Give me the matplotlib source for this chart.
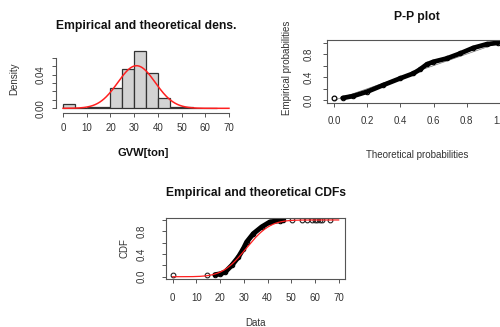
import math
import numpy as np
import matplotlib
matplotlib.use("Agg")
import matplotlib.pyplot as plt

plt.rcParams['font.family'] = ['Liberation Sans', 'DejaVu Sans']

# ---- data ----
bin_edges = [0, 5, 10, 15, 20, 25, 30, 35, 40, 45, 50, 55, 60, 65]
hist_density = [0.005, 0.0, 0.001, 0.001, 0.0245, 0.0468, 0.0674, 0.0417,
                0.0119, 0.001, 0.001, 0.0005, 0.0005]
fit_mean = 31.0
fit_sd = 7.9

pp_theo = [0.052, 0.116, 0.20, 0.297, 0.398, 0.478, 0.518, 0.558, 0.598,
           0.679, 0.759, 0.839, 0.92, 0.99]
pp_emp = [0.04, 0.074, 0.149, 0.264, 0.379, 0.465, 0.534, 0.62, 0.666,
          0.724, 0.81, 0.907, 0.971, 0.995]
pp_iso_theo = [0.0]
pp_iso_emp = [0.034]

cdf_x = [17.8, 20.0, 22.1, 24.9, 27.7, 29.8, 31.2, 34.0, 37.5, 41.0, 45.3, 46.7]
cdf_y = [0.035, 0.05, 0.083, 0.2, 0.347, 0.494, 0.612, 0.759, 0.877, 0.965, 0.99, 0.995]
cdf_iso_x = [0.0, 14.3, 50.2, 54.6, 56.7, 58.8, 60.0, 61.0, 62.0, 63.0, 66.5]
cdf_iso_y = [0.025, 0.035, 0.997, 0.998, 0.998, 0.999, 0.999, 0.999, 1.0, 1.0, 1.0]

hist_xticks = [0, 10, 20, 30, 40, 50, 60, 70]
hist_yticks = [0.0, 0.01, 0.02, 0.03, 0.04, 0.05, 0.06]
hist_ylabels = ['0.00', '', '', '', '0.04', '', '']
prob_ticks = [0.0, 0.2, 0.4, 0.6, 0.8, 1.0]
prob_xlabels = ['0.0', '0.2', '0.4', '0.6', '0.8', '1.0']
prob_ylabels = ['0.0', '', '0.4', '', '0.8', '']

W, H = 500, 327
fig = plt.figure(figsize=(W / 100, H / 100), dpi=100)

def rect(l, r, t, b):
    return [l / W, 1 - b / H, (r - l) / W, (b - t) / H]

TC = '#333333'
AX = '#555555'
FS = 7
TFS = 8.7

def norm_pdf(x):
    return np.exp(-0.5 * ((x - fit_mean) / fit_sd) ** 2) / (fit_sd * math.sqrt(2 * math.pi))

def norm_cdf(x):
    return np.array([0.5 * (1 + math.erf((v - fit_mean) / (fit_sd * math.sqrt(2)))) for v in x])

def style(ax, xpad, ypad):
    ax.tick_params(axis='both', length=2.9, width=0.7, color=AX, labelsize=FS,
                   labelcolor=TC)
    ax.tick_params(axis='x', pad=xpad)
    ax.tick_params(axis='y', pad=ypad)
    for lbl in ax.get_xticklabels():
        lbl.set_va('center')
    for lbl in ax.get_yticklabels():
        lbl.set_rotation(90)
        lbl.set_ha('center')
        lbl.set_va('center')

# ---- histogram ----
ax1 = fig.add_axes(rect(56.4, 235.6, 49, 112.7))
ax1.bar(bin_edges[:-1], hist_density, width=5, align='edge', color='#d3d3d3',
        edgecolor='#333333', linewidth=0.9)
xx = np.linspace(0, 70, 300)
ax1.plot(xx, norm_pdf(xx), color='#ff2020', lw=1.1)
ax1.set_xlim(-2.8, 72.8)
ax1.set_ylim(-0.0052, 0.0703)
for s in ['top', 'right']:
    ax1.spines[s].set_visible(False)
ax1.spines['left'].set_bounds(0, 0.06)
ax1.spines['bottom'].set_bounds(0, 70)
for s in ['left', 'bottom']:
    ax1.spines[s].set_color(AX)
    ax1.spines[s].set_linewidth(0.8)
ax1.set_xticks(hist_xticks)
ax1.set_yticks(hist_yticks)
ax1.set_yticklabels(hist_ylabels)
style(ax1, 8.1, 8.2)
fig.text(146 / W, 1 - 25.7 / H, 'Empirical and theoretical dens.', ha='center',
         va='center', fontsize=TFS, fontweight='bold', color='#111111')
fig.text(143 / W, 1 - 153 / H, 'GVW[ton]', ha='center', va='center',
         fontsize=8, fontweight='bold', color='#111111')
fig.text(14 / W, 1 - 79 / H, 'Density', ha='center', va='center', rotation=90,
         fontsize=FS, color=TC)

# ---- P-P plot ----
ax2 = fig.add_axes(rect(327.4, 506.6, 40.2, 102.6))
ax2.plot([0, 1], [0, 1], color='#777777', lw=0.5)
ax2.plot(pp_theo, pp_emp, color='black', lw=3.4, solid_capstyle='round')
ax2.plot(pp_theo, pp_emp, 'o', mfc='none', mec='black', ms=3.2, mew=0.8)
ax2.plot(pp_iso_theo, pp_iso_emp, 'o', mfc='none', mec='black', ms=3.4, mew=0.9)
ax2.set_xlim(-0.04, 1.04)
ax2.set_ylim(-0.04, 1.04)
for s in ax2.spines.values():
    s.set_color(AX)
    s.set_linewidth(0.8)
ax2.set_xticks(prob_ticks)
ax2.set_xticklabels(prob_xlabels)
ax2.set_yticks(prob_ticks)
ax2.set_yticklabels(prob_ylabels)
style(ax2, 10.6, 10.4)
fig.text(417 / W, 1 - 17.3 / H, 'P-P plot', ha='center', va='center',
         fontsize=TFS, fontweight='bold', color='#111111')
fig.text(417 / W, 1 - 155 / H, 'Theoretical probabilities', ha='center',
         va='center', fontsize=FS, color=TC)
fig.text(286.7 / W, 1 - 68 / H, 'Empirical probabilities', ha='center',
         va='center', rotation=90, fontsize=FS, color=TC)

# ---- CDF plot ----
ax3 = fig.add_axes(rect(166.1, 345.3, 217.7, 279))
cx = np.linspace(0, 70, 300)
ax3.plot(cdf_x, cdf_y, color='black', lw=3.6, solid_capstyle='round')
ax3.plot(cdf_x, cdf_y, 'o', mfc='none', mec='black', ms=3.2, mew=0.8)
ax3.plot(cdf_iso_x, cdf_iso_y, 'o', mfc='none', mec='#222222', ms=3.4, mew=0.8)
ax3.plot(cx, norm_cdf(cx), color='#ff2020', lw=0.9)
ax3.set_xlim(-2.8, 72.8)
ax3.set_ylim(-0.04, 1.04)
for s in ax3.spines.values():
    s.set_color(AX)
    s.set_linewidth(0.8)
ax3.set_xticks(hist_xticks)
ax3.set_yticks(prob_ticks)
ax3.set_yticklabels(prob_ylabels)
style(ax3, 10.8, 14.7)
fig.text(255.7 / W, 1 - 193.3 / H, 'Empirical and theoretical CDFs', ha='center',
         va='center', fontsize=TFS, fontweight='bold', color='#111111')
fig.text(255.7 / W, 1 - 323.3 / H, 'Data', ha='center', va='center',
         fontsize=FS, color=TC)
fig.text(125 / W, 1 - 248 / H, 'CDF', ha='center', va='center', rotation=90,
         fontsize=FS, color=TC)

fig.savefig('out.png', dpi=100)
